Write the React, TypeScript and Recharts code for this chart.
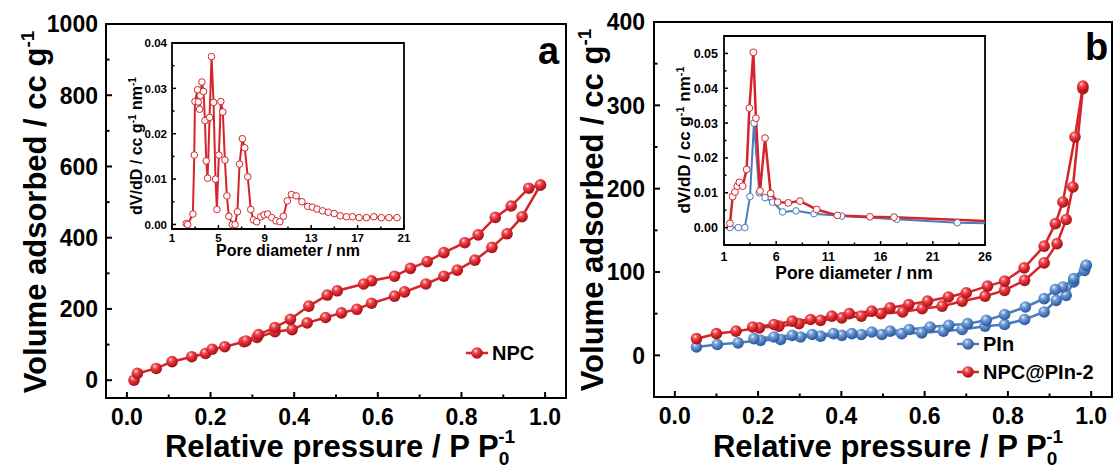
import React from "react";
import { LineChart, Line, XAxis, YAxis, ReferenceArea, Legend } from "recharts";

const FONT = '"Liberation Sans", Arial, Helvetica, sans-serif';
const RED = "#d6242b";
const BLUE = "#4a7bbf";

// (a) NPC isotherm, adsorption + desorption branch
const npcAdsP = [0.017, 0.025, 0.07, 0.108, 0.155, 0.188, 0.204, 0.234, 0.28, 0.311, 0.354, 0.395, 0.431, 0.475, 0.513, 0.55, 0.585, 0.64, 0.664, 0.715, 0.758, 0.79, 0.832, 0.873, 0.909, 0.945, 0.989];
const npcAdsV = [0, 19, 33, 52, 66, 75, 87, 94, 108, 120, 136, 142, 161, 176, 189, 199, 216, 236, 248, 270, 292, 309, 337, 373, 411, 459, 548];
const npcDesP = [0.989, 0.961, 0.919, 0.881, 0.84, 0.808, 0.758, 0.718, 0.678, 0.64, 0.585, 0.566, 0.503, 0.479, 0.435, 0.391, 0.354, 0.315, 0.285];
const npcDesV = [548, 539, 489, 457, 408, 386, 358, 333, 314, 292, 279, 270, 251, 239, 208, 171, 148, 128, 110];

// (a) inset, pore size distribution
const npcPoreD = [2.23, 2.35, 2.8, 2.92, 2.98, 3.2, 3.26, 3.38, 3.44, 3.58, 3.72, 3.84, 3.95, 4.07, 4.24, 4.41, 4.58, 4.75, 4.87, 5.04, 5.21, 5.38, 5.56, 5.73, 5.9, 6.2, 6.44, 6.64, 6.82, 7.07, 7.27, 7.53, 7.79, 8.02, 8.3, 8.65, 8.94, 9.25, 9.6, 9.97, 10.3, 10.6, 10.94, 11.3, 11.7, 12.2, 12.7, 13.1, 13.5, 13.98, 14.47, 14.98, 15.5, 16.04, 16.56, 17.13, 17.76, 18.4, 19.05, 19.7, 20.4];
const npcPoreV = [0.0002, 0, 0.0023, 0.0153, 0.0271, 0.0297, 0.027, 0.0254, 0.0284, 0.0314, 0.0293, 0.0229, 0.014, 0.0102, 0.0236, 0.037, 0.0269, 0.01, 0.0033, 0.0153, 0.0271, 0.0248, 0.0142, 0.0063, 0.0018, 0, 0, 0.0028, 0.0133, 0.0189, 0.0169, 0.0105, 0.0033, 0.001, 0.0006, 0.0017, 0.0021, 0.0023, 0.0015, 0.0008, 0.0006, 0.0018, 0.0052, 0.0066, 0.0063, 0.005, 0.004, 0.0038, 0.0034, 0.003, 0.0027, 0.0024, 0.0019, 0.0017, 0.0017, 0.0015, 0.0015, 0.0017, 0.0015, 0.0015, 0.0015];

// (b) isotherms
const pinAdsP = [0.052, 0.102, 0.152, 0.206, 0.254, 0.302, 0.35, 0.401, 0.448, 0.497, 0.545, 0.593, 0.645, 0.69, 0.745, 0.792, 0.84, 0.887, 0.916, 0.94, 0.958, 0.984, 0.988];
const pinAdsV = [10, 13, 15, 18, 19, 22, 23, 24, 25, 25, 26, 27, 29, 31, 35, 37, 43, 52, 66, 72, 88, 102, 108];
const pinDesP = [0.988, 0.958, 0.932, 0.914, 0.887, 0.842, 0.792, 0.748, 0.703, 0.658, 0.613, 0.563, 0.517, 0.473, 0.425, 0.381, 0.33, 0.282, 0.238, 0.19];
const pinDesV = [108, 92, 82, 79, 68, 58, 49, 42, 38, 36, 34, 31, 29, 28, 26, 26, 25, 24, 22, 20];
const hybAdsP = [0.052, 0.1, 0.147, 0.203, 0.25, 0.298, 0.35, 0.401, 0.448, 0.495, 0.547, 0.594, 0.642, 0.69, 0.745, 0.792, 0.84, 0.887, 0.918, 0.94, 0.956, 0.98];
const hybAdsV = [20, 26, 29, 33, 35, 38, 42, 45, 47, 50, 52, 56, 59, 65, 71, 78, 90, 111, 134, 163, 202, 320];
const hybDesP = [0.98, 0.961, 0.932, 0.914, 0.887, 0.839, 0.792, 0.751, 0.7, 0.657, 0.607, 0.562, 0.517, 0.473, 0.419, 0.377, 0.326, 0.282, 0.238, 0.187];
const hybDesV = [323, 262, 184, 158, 131, 105, 89, 83, 75, 70, 65, 61, 57, 53, 50, 47, 43, 41, 37, 34];

// (b) inset
const pinPoreD = [1.57, 2.37, 3.0, 3.49, 3.87, 4.38, 4.93, 5.66, 6.62, 7.9, 9.62, 12.27, 17.54, 23.35, 27.5];
const pinPoreV = [0, 0, 0, 0.0089, 0.03, 0.01, 0.0086, 0.0073, 0.0045, 0.0048, 0.004, 0.0033, 0.0024, 0.0014, 0.0011];
const hybPoreD = [1.57, 1.83, 2.05, 2.28, 2.47, 2.79, 3.17, 3.43, 3.81, 4.06, 4.45, 4.93, 5.47, 6.14, 7.16, 8.28, 9.88, 11.86, 14.98, 17.28, 27.5];
const hybPoreV = [0.0012, 0.0089, 0.0102, 0.0119, 0.013, 0.0119, 0.0167, 0.0343, 0.0503, 0.0314, 0.0105, 0.0257, 0.0098, 0.0073, 0.0071, 0.0076, 0.0052, 0.0035, 0.0031, 0.003, 0.0017];

// ticks (majors get labels, the rest are minor marks)
const isoXTicks = [0, 0.1, 0.2, 0.3, 0.4, 0.5, 0.6, 0.7, 0.8, 0.9, 1.0];
const aYTicks = [0, 100, 200, 300, 400, 500, 600, 700, 800, 900, 1000];
const bYTicks = [0, 50, 100, 150, 200, 250, 300, 350, 400];
const insetAXTicks = [1, 3, 5, 7, 9, 11, 13, 15, 17, 19, 21];
const insetAYTicks = [0, 0.005, 0.01, 0.015, 0.02, 0.025, 0.03, 0.035, 0.04];
const insetBXTicks = [1, 3.5, 6, 8.5, 11, 13.5, 16, 18.5, 21, 23.5, 26];
const insetBYTicks = [0, 0.005, 0.01, 0.015, 0.02, 0.025, 0.03, 0.035, 0.04, 0.045, 0.05];

const zip = (xs: number[], ys: number[]) => xs.map((x, i) => ({ x, y: ys[i] }));

type TickOpts = {
  major: (v: number) => boolean;
  fmt: (v: number) => string;
  size: number;
  off: number;
  big: number;
  small: number;
  sw: number;
};

const xTick = (o: TickOpts) => (p: any) => {
  const { x, y, payload } = p;
  const m = o.major(payload.value);
  return (
    <g>
      <line x1={x} x2={x} y1={y} y2={y - (m ? o.big : o.small)} stroke="#000" strokeWidth={o.sw} />
      {m && (
        <text x={x} y={y + o.off} textAnchor="middle" fontSize={o.size} fontWeight={700} fontFamily={FONT} fill="#000">
          {o.fmt(payload.value)}
        </text>
      )}
    </g>
  );
};

const yTick = (o: TickOpts) => (p: any) => {
  const { x, y, payload } = p;
  const m = o.major(payload.value);
  return (
    <g>
      <line x1={x} x2={x + (m ? o.big : o.small)} y1={y} y2={y} stroke="#000" strokeWidth={o.sw} />
      {m && (
        <text x={x - o.off} y={y} dy="0.36em" textAnchor="end" fontSize={o.size} fontWeight={700} fontFamily={FONT} fill="#000">
          {o.fmt(payload.value)}
        </text>
      )}
    </g>
  );
};

const near = (v: number, step: number) => Math.abs(v / step - Math.round(v / step)) < 1e-6;

const mainX: TickOpts = { major: (v) => near(v, 0.2), fmt: (v) => v.toFixed(1), size: 23, off: 27, big: 6, small: 3.5, sw: 2 };
const mainYa: TickOpts = { major: (v) => near(v, 200), fmt: (v) => String(v), size: 23, off: 8, big: 6, small: 3.5, sw: 2 };
const mainYb: TickOpts = { major: (v) => near(v, 100), fmt: (v) => String(v), size: 23, off: 9, big: 6, small: 3.5, sw: 2 };
const inAX: TickOpts = { major: (v) => near(v - 1, 4), fmt: (v) => String(v), size: 11.5, off: 13, big: 4, small: 2.5, sw: 1.5 };
const inAY: TickOpts = { major: (v) => near(v, 0.01), fmt: (v) => v.toFixed(2), size: 11.5, off: 5, big: 4, small: 2.5, sw: 1.5 };
const inBX: TickOpts = { major: (v) => near(v - 1, 5), fmt: (v) => String(v), size: 12.5, off: 16, big: 4, small: 2.5, sw: 1.5 };
const inBY: TickOpts = { major: (v) => near(v, 0.01), fmt: (v) => v.toFixed(2), size: 12.5, off: 6, big: 4, small: 2.5, sw: 1.5 };

const ball = (grad: string) => (p: any) => {
  const { cx, cy, index } = p;
  if (cx == null || cy == null) return <g key={index} />;
  return <circle key={index} cx={cx} cy={cy} r={5.8} fill={`url(#${grad})`} />;
};

// legend shows only the named series, in the given order
const legendContent = (rowH: number, order: string[]) => (p: any) => {
  const items = order
    .map((name) => (p.payload || []).find((e: any) => e.value === name))
    .filter(Boolean);
  return (
    <div style={{ display: "flex", flexDirection: "column" }}>
      {items.map((e: any) => (
        <div key={e.value} style={{ display: "flex", alignItems: "center", height: rowH }}>
          <svg width={24} height={rowH}>
            <line x1={1} x2={23} y1={rowH / 2} y2={rowH / 2} stroke={e.color} strokeWidth={2.5} />
            <circle cx={12} cy={rowH / 2} r={5.8} fill={e.color === BLUE ? "url(#gBlue)" : "url(#gRed)"} />
          </svg>
          <span style={{ marginLeft: 3, fontSize: 20, fontWeight: 700, fontFamily: FONT, color: "#000", lineHeight: `${rowH}px`, whiteSpace: "nowrap" }}>
            {e.value}
          </span>
        </div>
      ))}
    </div>
  );
};

const axisCommon = { axisLine: false, tickLine: false, tickSize: 0, tickMargin: 0, interval: 0 as const, allowDataOverflow: true };

export default function App() {
  const txt = { fontFamily: FONT, fontWeight: 700, fill: "#000" };
  return (
    <div style={{ position: "absolute", left: 0, top: 0, width: 1116, height: 468, background: "#fff", overflow: "hidden" }}>
      <svg width={0} height={0} style={{ position: "absolute" }}>
        <defs>
          <radialGradient id="gRed" cx="38%" cy="32%" r="70%">
            <stop offset="0%" stopColor="#ffe6e6" />
            <stop offset="25%" stopColor="#f0565b" />
            <stop offset="60%" stopColor="#d6232a" />
            <stop offset="100%" stopColor="#9c1117" />
          </radialGradient>
          <radialGradient id="gBlue" cx="38%" cy="32%" r="70%">
            <stop offset="0%" stopColor="#eef4fc" />
            <stop offset="25%" stopColor="#80a7dc" />
            <stop offset="60%" stopColor="#4b7cc0" />
            <stop offset="100%" stopColor="#2c5592" />
          </radialGradient>
        </defs>
      </svg>

      {/* panel a */}
      <div style={{ position: "absolute", left: 0, top: 0 }}>
        <LineChart width={570} height={468} margin={{ top: 24, right: 4, bottom: 0, left: 0 }}>
          <XAxis type="number" dataKey="x" domain={[-0.05, 1.05]} ticks={isoXTicks} height={70} tick={xTick(mainX)} {...axisCommon} />
          <YAxis type="number" domain={[-50, 1000]} ticks={aYTicks} width={106} tick={yTick(mainYa)} {...axisCommon} />
          <ReferenceArea x1={-0.05} x2={1.05} y1={-50} y2={1000} fill="none" stroke="#000" strokeWidth={2} ifOverflow="visible" />
          <Line data={zip(npcAdsP, npcAdsV)} dataKey="y" name="NPC" stroke={RED} strokeWidth={2.5} dot={ball("gRed")} activeDot={false} isAnimationActive={false} />
          <Line data={zip(npcDesP, npcDesV)} dataKey="y" name="NPC des" legendType="none" stroke={RED} strokeWidth={2.5} dot={ball("gRed")} activeDot={false} isAnimationActive={false} />
          <Legend layout="vertical" align="center" verticalAlign="middle" wrapperStyle={{ left: 465, top: 340, width: 120 }} content={legendContent(26, ["NPC"])} />
        </LineChart>
      </div>

      {/* panel b */}
      <div style={{ position: "absolute", left: 556, top: 0 }}>
        <LineChart width={560} height={468} margin={{ top: 22, right: 4, bottom: 0, left: 0 }}>
          <XAxis type="number" dataKey="x" domain={[-0.05, 1.05]} ticks={isoXTicks} height={71} tick={xTick(mainX)} {...axisCommon} />
          <YAxis type="number" domain={[-50, 400]} ticks={bYTicks} width={98} tick={yTick(mainYb)} {...axisCommon} />
          <ReferenceArea x1={-0.05} x2={1.05} y1={-50} y2={400} fill="none" stroke="#000" strokeWidth={2} ifOverflow="visible" />
          <Line data={zip(pinAdsP, pinAdsV)} dataKey="y" name="PIn" stroke={BLUE} strokeWidth={2.5} dot={ball("gBlue")} activeDot={false} isAnimationActive={false} />
          <Line data={zip(pinDesP, pinDesV)} dataKey="y" name="PIn des" legendType="none" stroke={BLUE} strokeWidth={2.5} dot={ball("gBlue")} activeDot={false} isAnimationActive={false} />
          <Line data={zip(hybAdsP, hybAdsV)} dataKey="y" name="NPC@PIn-2" stroke={RED} strokeWidth={2.5} dot={ball("gRed")} activeDot={false} isAnimationActive={false} />
          <Line data={zip(hybDesP, hybDesV)} dataKey="y" name="NPC@PIn-2 des" legendType="none" stroke={RED} strokeWidth={2.5} dot={ball("gRed")} activeDot={false} isAnimationActive={false} />
          <Legend layout="vertical" align="center" verticalAlign="middle" wrapperStyle={{ left: 400, top: 330, width: 160 }} content={legendContent(28, ["PIn", "NPC@PIn-2"])} />
        </LineChart>
      </div>

      {/* inset a */}
      <div style={{ position: "absolute", left: 110, top: 36 }}>
        <LineChart width={312} height={230} margin={{ top: 7, right: 18, bottom: 0, left: 0 }}>
          <XAxis type="number" dataKey="x" domain={[1, 21]} ticks={insetAXTicks} height={37} tick={xTick(inAX)} {...axisCommon} />
          <YAxis type="number" domain={[-0.001, 0.04]} ticks={insetAYTicks} width={62} tick={yTick(inAY)} {...axisCommon} />
          <ReferenceArea x1={1} x2={21} y1={-0.001} y2={0.04} fill="none" stroke="#000" strokeWidth={1.8} ifOverflow="visible" />
          <Line data={zip(npcPoreD, npcPoreV)} dataKey="y" stroke={RED} strokeWidth={2} dot={{ r: 3.3, fill: "#fff", stroke: RED, strokeWidth: 1 }} activeDot={false} isAnimationActive={false} />
        </LineChart>
      </div>

      {/* inset b */}
      <div style={{ position: "absolute", left: 660, top: 28 }}>
        <LineChart width={345} height={255} margin={{ top: 8, right: 20, bottom: 0, left: 0 }}>
          <XAxis type="number" dataKey="x" domain={[1, 26]} ticks={insetBXTicks} height={38} tick={xTick(inBX)} {...axisCommon} />
          <YAxis type="number" domain={[-0.005, 0.055]} ticks={insetBYTicks} width={64} tick={yTick(inBY)} {...axisCommon} />
          <ReferenceArea x1={1} x2={26} y1={-0.005} y2={0.055} fill="none" stroke="#000" strokeWidth={1.8} ifOverflow="visible" />
          <Line data={zip(pinPoreD, pinPoreV)} dataKey="y" stroke={BLUE} strokeWidth={2} dot={{ r: 3.3, fill: "#fff", stroke: BLUE, strokeWidth: 1 }} activeDot={false} isAnimationActive={false} />
          <Line data={zip(hybPoreD, hybPoreV)} dataKey="y" stroke={RED} strokeWidth={2.5} dot={{ r: 3.4, fill: "#fff", stroke: RED, strokeWidth: 1 }} activeDot={false} isAnimationActive={false} />
        </LineChart>
      </div>

      {/* titles */}
      <svg width={1116} height={468} style={{ position: "absolute", left: 0, top: 0, pointerEvents: "none" }}>
        <text {...txt} fontSize={31} transform="translate(46,212) rotate(-90)" textAnchor="middle">
          Volume adsorbed / cc g<tspan dy={-12} fontSize={19}>-1</tspan>
        </text>
        <text {...txt} fontSize={31} transform="translate(603,210) rotate(-90)" textAnchor="middle">
          Volume adsorbed / cc g<tspan dy={-12} fontSize={19}>-1</tspan>
        </text>
        <text {...txt} fontSize={31} x={340} y={457} textAnchor="middle">
          Relative pressure / P P<tspan dy={8} fontSize={19}>0</tspan>
          <tspan dx={-11} dy={-22} fontSize={19}>-1</tspan>
        </text>
        <text {...txt} fontSize={31} x={888} y={457} textAnchor="middle">
          Relative pressure / P P<tspan dy={8} fontSize={19}>0</tspan>
          <tspan dx={-11} dy={-22} fontSize={19}>-1</tspan>
        </text>
        <text {...txt} fontSize={38} x={538} y={64}>a</text>
        <text {...txt} fontSize={38} x={1085} y={60}>b</text>

        <text {...txt} fontSize={16} x={288} y={256} textAnchor="middle">Pore diameter / nm</text>
        <text {...txt} fontSize={17.5} x={854} y={279} textAnchor="middle">Pore diameter / nm</text>
        <text {...txt} fontSize={16} transform="translate(142,146) rotate(-90)" textAnchor="middle">
          dV/dD / cc g<tspan dy={-6} fontSize={10}>-1</tspan>
          <tspan dy={6}> nm</tspan>
          <tspan dy={-6} fontSize={10}>-1</tspan>
        </text>
        <text {...txt} fontSize={17} transform="translate(690,140) rotate(-90)" textAnchor="middle">
          dV/dD / cc g<tspan dy={-6} fontSize={11}>-1</tspan>
          <tspan dy={6}> nm</tspan>
          <tspan dy={-6} fontSize={11}>-1</tspan>
        </text>
      </svg>
    </div>
  );
}
